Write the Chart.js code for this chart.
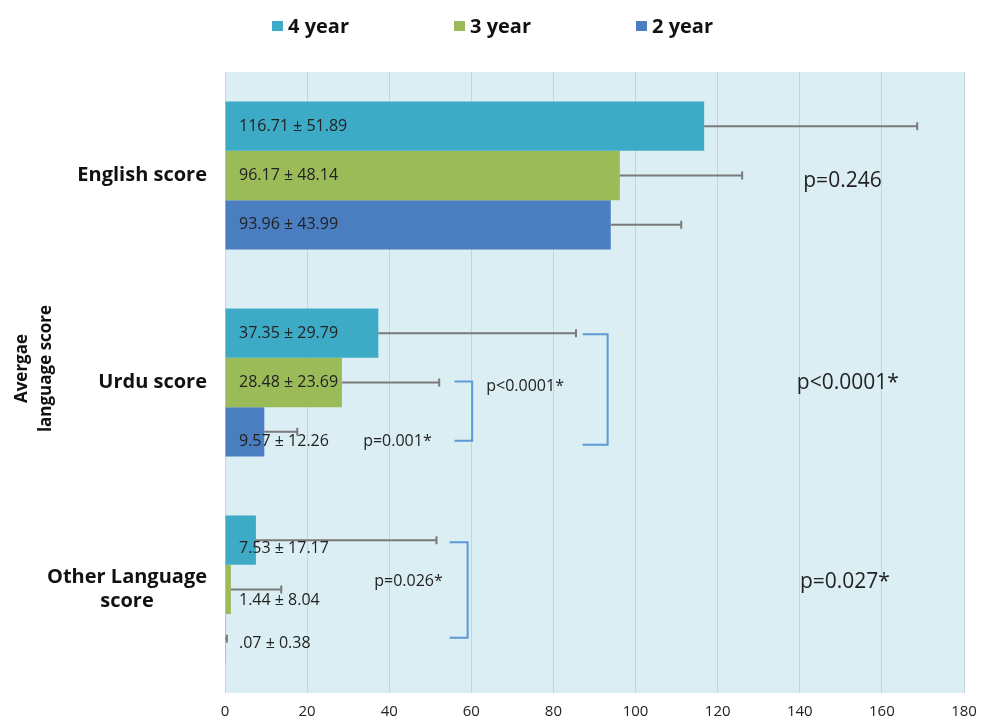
<!DOCTYPE html>
<html>
<head>
<meta charset="utf-8">
<script src="https://cdn.jsdelivr.net/npm/chart.js@4"></script>
<style>
  html, body { margin: 0; padding: 0; background: #fff; }
  #wrap { width: 982px; height: 722px; }
</style>
</head>
<body>
<div id="wrap"><canvas id="langChart" width="982" height="722"></canvas></div>
<script>
const categories = [["English score"], ["Urdu score"], ["Other Language", "score"]];
const seriesNames = ["4 year", "3 year", "2 year"];

const mean4 = [116.71, 37.35, 7.53];
const mean3 = [96.17, 28.48, 1.44];
const mean2 = [93.96, 9.57, 0.07];

// sd printed in the bar labels
const sd4 = [51.89, 29.79, 17.17];
const sd3 = [48.14, 23.69, 8.04];
const sd2 = [43.99, 12.26, 0.38];

// error bars as drawn in the picture (they don't follow the labels)
const err4 = [51.89, 48.14, 43.99];
const err3 = [29.79, 23.69, 12.26];
const err2 = [17.17, 8.04, 0.38];

const xTicks = [0, 20, 40, 60, 80, 100, 120, 140, 160, 180];
const colors = ["#3dabc6", "#9bbb59", "#4a7ec1"];

const pTexts = [
  { text: "p=0.246", x: 150.4, cat: 0, dy: 6, size: 21 },
  { text: "p<0.0001*", x: 151.7, cat: 1, dy: 1, size: 21 },
  { text: "p=0.027*", x: 151, cat: 2, dy: -7, size: 21 },
  { text: "p<0.0001*", x: 73.1, cat: 1, dy: 4, size: 16 },
  { text: "p=0.001*", x: 42.0, cat: 1, dy: 59, size: 16 },
  { text: "p=0.026*", x: 44.7, cat: 2, dy: -8, size: 16 },
];

// brackets: x range in data units, top/bottom hang off a bar centre
const brackets = [
  { cat: 1, x1: 87.1, x2: 93.2, topDs: 0, topDy: 1, botDs: 2, botDy: 13 },
  { cat: 1, x1: 55.9, x2: 60.2, topDs: 1, topDy: -1, botDs: 2, botDy: 9 },
  { cat: 2, x1: 54.7, x2: 59.1, topDs: 0, topDy: 2, botDs: 2, botDy: -1 },
];

// some labels sit a bit below the bar centre in the original
const labelNudge = [[0, 0, 8], [0, 0, 11], [0, 10, 5]];

const FONT = "'Open Sans', Lato, sans-serif";

function fmt(v) {
  let s = v.toFixed(2);
  if (s.startsWith("0.")) s = s.slice(1);
  return s;
}

const means = [mean4, mean3, mean2];
const sds = [sd4, sd3, sd2];
const errs = [err4, err3, err2];

const overlayPlugin = {
  id: "overlay",
  beforeDraw(chart) {
    const { ctx, chartArea: a } = chart;
    ctx.save();
    ctx.fillStyle = "#daeef4";
    ctx.fillRect(a.left, a.top, a.right - a.left, a.bottom - a.top);
    ctx.restore();
  },
  afterDatasetsDraw(chart) {
    const { ctx, scales } = chart;
    const x = scales.x, y = scales.y;
    ctx.save();

    // error bars
    ctx.strokeStyle = "#7a7a7a";
    ctx.lineWidth = 2;
    means.forEach((m, d) => {
      const meta = chart.getDatasetMeta(d);
      m.forEach((v, i) => {
        const bar = meta.data[i];
        const x0 = x.getPixelForValue(v);
        const x1 = x.getPixelForValue(v + errs[d][i]);
        ctx.beginPath();
        ctx.moveTo(x0, bar.y);
        ctx.lineTo(x1, bar.y);
        ctx.moveTo(x1, bar.y - 4);
        ctx.lineTo(x1, bar.y + 4);
        ctx.stroke();
      });
    });

    // value labels
    ctx.fillStyle = "#222";
    ctx.font = "16px " + FONT;
    ctx.textBaseline = "middle";
    ctx.textAlign = "left";
    means.forEach((m, d) => {
      const meta = chart.getDatasetMeta(d);
      m.forEach((v, i) => {
        const bar = meta.data[i];
        ctx.fillText(fmt(v) + " \u00b1 " + sds[d][i].toFixed(2), x.getPixelForValue(0) + 14, bar.y + labelNudge[d][i]);
      });
    });

    // brackets
    ctx.strokeStyle = "#5b9bd5";
    ctx.lineWidth = 2;
    brackets.forEach((b) => {
      const yt = chart.getDatasetMeta(b.topDs).data[b.cat].y + b.topDy;
      const yb = chart.getDatasetMeta(b.botDs).data[b.cat].y + b.botDy;
      const xa = x.getPixelForValue(b.x1), xb = x.getPixelForValue(b.x2);
      ctx.beginPath();
      ctx.moveTo(xa, yt);
      ctx.lineTo(xb, yt);
      ctx.lineTo(xb, yb);
      ctx.lineTo(xa, yb);
      ctx.stroke();
    });

    // p values
    ctx.fillStyle = "#222";
    ctx.textAlign = "center";
    pTexts.forEach((p) => {
      ctx.font = p.size + "px " + FONT;
      ctx.fillText(p.text, x.getPixelForValue(p.x), y.getPixelForValue(p.cat) + p.dy);
    });
    ctx.restore();
  },
  afterDraw(chart) {
    const { ctx, scales, chartArea: a } = chart;
    const y = scales.y;
    ctx.save();
    ctx.fillStyle = "#111";
    ctx.textBaseline = "middle";

    // category labels, block right-aligned, lines centred in block
    ctx.font = "bold 20px " + FONT;
    categories.forEach((lines, i) => {
      const w = Math.max(...lines.map((l) => ctx.measureText(l).width));
      const right = a.left - 18;
      const cx = right - w / 2;
      const yc = y.getPixelForValue(i);
      ctx.textAlign = "center";
      lines.forEach((l, k) => {
        ctx.fillText(l, cx, yc + (k - (lines.length - 1) / 2) * 24);
      });
    });

    // axis title, rotated
    ctx.font = "bold 17px " + FONT;
    ctx.translate(34, (a.top + a.bottom) / 2 - 14);
    ctx.rotate(-Math.PI / 2);
    ctx.textAlign = "center";
    ctx.fillText("Avergae", 0, -12);
    ctx.fillText("language score", 0, 12);
    ctx.setTransform(1, 0, 0, 1, 0, 0);

    // legend
    ctx.font = "bold 20px " + FONT;
    ctx.textAlign = "left";
    seriesNames.forEach((name, d) => {
      const lx = 272 + d * 182;
      ctx.fillStyle = colors[d];
      ctx.fillRect(lx, 21, 11, 10);
      ctx.fillStyle = "#111";
      ctx.fillText(name, lx + 16, 27);
    });
    ctx.restore();
  },
};

new Chart(document.getElementById("langChart"), {
  type: "bar",
  data: {
    labels: categories,
    datasets: seriesNames.map((name, d) => ({
      label: name,
      data: means[d],
      backgroundColor: colors[d],
      borderWidth: 0,
      categoryPercentage: 0.715,
      barPercentage: 1,
    })),
  },
  options: {
    indexAxis: "y",
    responsive: false,
    animation: false,
    layout: { padding: { top: 72, left: 225, right: 18, bottom: 0 } },
    plugins: {
      legend: { display: false },
      tooltip: { enabled: false },
    },
    scales: {
      y: { display: false },
      x: {
        min: 0,
        max: 180,
        afterBuildTicks: (s) => { s.ticks = xTicks.map((v) => ({ value: v })); },
        afterFit: (s) => {
          s.height = 29;
          s.paddingLeft = 0;
          s.paddingRight = 0;
        },
        grid: { color: "#c9d3d6", drawTicks: false },
        border: { display: false },
        ticks: {
          padding: 10,
          color: "#222",
          font: { family: FONT, size: 15 },
        },
      },
    },
  },
  plugins: [overlayPlugin],
});
</script>
</body>
</html>
